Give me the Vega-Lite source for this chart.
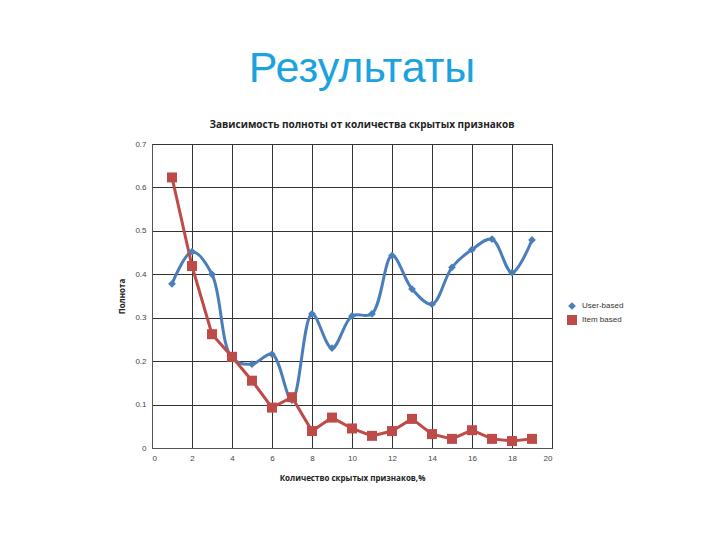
{
  "$schema": "https://vega.github.io/schema/vega-lite/v6.json",
  "autosize": "none",
  "width": 400,
  "height": 304,
  "padding": {"left": 152, "top": 144, "right": 168, "bottom": 92},
  "background": "white",
  "title": {
    "text": "Результаты",
    "subtitle": "Зависимость полноты от количества скрытых признаков",
    "anchor": "middle",
    "dx": 10,
    "font": "Liberation Sans",
    "fontSize": 43,
    "fontWeight": "normal",
    "color": "#1BA3E0",
    "subtitleFont": "Open Sans",
    "subtitleFontSize": 10,
    "subtitleFontWeight": "bold",
    "subtitleColor": "#222222",
    "subtitlePadding": 29,
    "offset": 10
  },
  "config": {
    "view": {"stroke": "#555555", "strokeWidth": 1},
    "axis": {
      "labelFont": "Liberation Sans",
      "labelFontSize": 8,
      "labelColor": "#444444",
      "titleFont": "Open Sans",
      "titleFontSize": 8,
      "titleFontWeight": "bold",
      "titleColor": "#222222",
      "gridColor": "#333333",
      "gridOpacity": 1,
      "gridWidth": 1,
      "domainColor": "#555555",
      "ticks": false
    },
    "legend": {
      "labelFont": "Liberation Sans",
      "labelFontSize": 8,
      "labelColor": "#333333"
    }
  },
  "data": {
    "values": [
      {"x": 1, "y": 0.378, "s": "User-based"},
      {"x": 2, "y": 0.452, "s": "User-based"},
      {"x": 3, "y": 0.400, "s": "User-based"},
      {"x": 4, "y": 0.207, "s": "User-based"},
      {"x": 5, "y": 0.193, "s": "User-based"},
      {"x": 6, "y": 0.216, "s": "User-based"},
      {"x": 7, "y": 0.110, "s": "User-based"},
      {"x": 8, "y": 0.309, "s": "User-based"},
      {"x": 9, "y": 0.230, "s": "User-based"},
      {"x": 10, "y": 0.304, "s": "User-based"},
      {"x": 11, "y": 0.309, "s": "User-based"},
      {"x": 12, "y": 0.443, "s": "User-based"},
      {"x": 13, "y": 0.366, "s": "User-based"},
      {"x": 14, "y": 0.331, "s": "User-based"},
      {"x": 15, "y": 0.416, "s": "User-based"},
      {"x": 16, "y": 0.457, "s": "User-based"},
      {"x": 17, "y": 0.481, "s": "User-based"},
      {"x": 18, "y": 0.404, "s": "User-based"},
      {"x": 19, "y": 0.479, "s": "User-based"},
      {"x": 1, "y": 0.623, "s": "Item based"},
      {"x": 2, "y": 0.419, "s": "Item based"},
      {"x": 3, "y": 0.262, "s": "Item based"},
      {"x": 4, "y": 0.210, "s": "Item based"},
      {"x": 5, "y": 0.155, "s": "Item based"},
      {"x": 6, "y": 0.093, "s": "Item based"},
      {"x": 7, "y": 0.117, "s": "Item based"},
      {"x": 8, "y": 0.039, "s": "Item based"},
      {"x": 9, "y": 0.070, "s": "Item based"},
      {"x": 10, "y": 0.045, "s": "Item based"},
      {"x": 11, "y": 0.028, "s": "Item based"},
      {"x": 12, "y": 0.039, "s": "Item based"},
      {"x": 13, "y": 0.067, "s": "Item based"},
      {"x": 14, "y": 0.032, "s": "Item based"},
      {"x": 15, "y": 0.021, "s": "Item based"},
      {"x": 16, "y": 0.041, "s": "Item based"},
      {"x": 17, "y": 0.021, "s": "Item based"},
      {"x": 18, "y": 0.016, "s": "Item based"},
      {"x": 19, "y": 0.021, "s": "Item based"}
    ]
  },
  "encoding": {
    "x": {
      "field": "x", "type": "quantitative",
      "scale": {"domain": [0, 20], "nice": false},
      "axis": {"values": [0, 2, 4, 6, 8, 10, 12, 14, 16, 18, 20], "title": "Количество скрытых признаков,%", "labelPadding": 6, "titlePadding": 12}
    },
    "y": {
      "field": "y", "type": "quantitative",
      "scale": {"domain": [0, 0.7], "nice": false},
      "axis": {"values": [0, 0.1, 0.2, 0.3, 0.4, 0.5, 0.6, 0.7], "format": "~g", "title": "Полнота", "labelPadding": 6, "titlePadding": 8}
    }
  },
  "layer": [
    {
      "transform": [{"filter": "datum.s === 'User-based'"}],
      "mark": {"type": "line", "interpolate": "catmull-rom", "strokeWidth": 3, "color": "#4A7EBB"},
      "encoding": {}
    },
    {
      "transform": [{"filter": "datum.s === 'Item based'"}],
      "mark": {"type": "line", "interpolate": "linear", "strokeWidth": 3, "color": "#BE4B48"},
      "encoding": {}
    },
    {
      "mark": {"type": "point", "filled": true, "opacity": 1},
      "encoding": {
        "color": {
          "field": "s", "type": "nominal",
          "scale": {"domain": ["User-based", "Item based"], "range": ["#4A7EBB", "#BE4B48"]},
          "legend": {"title": null, "orient": "none", "legendX": 414, "legendY": 157, "symbolSize": 50, "padding": 0, "rowPadding": 4}
        },
        "shape": {
          "field": "s", "type": "nominal",
          "scale": {"domain": ["User-based", "Item based"], "range": ["diamond", "square"]}
        },
        "size": {
          "field": "s", "type": "nominal",
          "scale": {"domain": ["User-based", "Item based"], "range": [60, 100]},
          "legend": null
        }
      }
    }
  ]
}
